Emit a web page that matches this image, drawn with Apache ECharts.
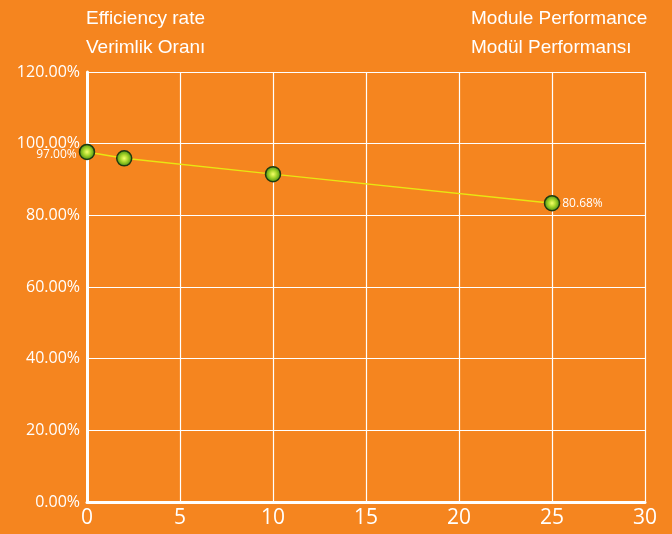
<!DOCTYPE html>
<html>
<head>
<meta charset="utf-8">
<script src="https://cdn.jsdelivr.net/npm/echarts@6/dist/echarts.min.js"></script>
<style>
html,body{margin:0;padding:0;background:#F5851F;}
#c{width:672px;height:534px;}
</style>
</head>
<body>
<div id="c"></div>
<script>
// Data
const years = [0, 2, 10, 25];
const efficiency = [97.7, 95.9, 91.5, 83.4];
const pointLabels = ['97.00%', '', '', '80.68%'];
const labelSides = ['left', 'left', 'left', 'right'];
const xTicks = [0, 5, 10, 15, 20, 25, 30];
const yTicks = [0, 20, 40, 60, 80, 100, 120];
const titlesLeft = ['Efficiency rate', 'Verimlik Oranı'];
const titlesRight = ['Module Performance', 'Modül Performansı'];

const chart = echarts.init(document.getElementById('c'), null, {renderer: 'canvas'});

const markerColor = new echarts.graphic.RadialGradient(0.5, 0.5, 0.5, [
  {offset: 0, color: '#f4ff6a'},
  {offset: 0.45, color: '#a8d62a'},
  {offset: 1, color: '#3f8a12'}
]);

const titleFont = {color: '#ffffff', fontSize: 19, fontFamily: 'Liberation Sans', fontWeight: 'normal'};

option = {
  backgroundColor: '#F5851F',
  animation: false,
  title: [
    {text: titlesLeft[0], left: 86, top: 9, padding: 0, textStyle: titleFont},
    {text: titlesLeft[1], left: 86, top: 38, padding: 0, textStyle: titleFont},
    {text: titlesRight[0], left: 471, top: 9, padding: 0, textStyle: titleFont},
    {text: titlesRight[1], left: 471, top: 38, padding: 0, textStyle: titleFont}
  ],
  grid: {left: 87, right: 27, top: 72, bottom: 32, containLabel: false},
  xAxis: {
    type: 'value',
    min: xTicks[0], max: xTicks[xTicks.length - 1], interval: 5,
    axisLine: {show: true, onZero: false, lineStyle: {color: '#ffffff', width: 3}},
    axisTick: {show: false},
    axisLabel: {color: '#ffffff', fontSize: 21, fontFamily: 'Open Sans', margin: 6},
    splitLine: {show: true, lineStyle: {color: '#ffffff', width: 1.2}}
  },
  yAxis: {
    type: 'value',
    min: yTicks[0], max: yTicks[yTicks.length - 1], interval: 20,
    axisLine: {show: true, onZero: false, lineStyle: {color: '#ffffff', width: 3}},
    axisTick: {show: false},
    axisLabel: {color: '#ffffff', fontSize: 16, fontFamily: 'Open Sans', margin: 7,
      formatter: v => v.toFixed(2) + '%'},
    splitLine: {show: true, lineStyle: {color: '#ffffff', width: 1.2}}
  },
  series: [{
    type: 'line',
    data: years.map((x, i) => ({
      value: [x, efficiency[i]],
      label: {show: pointLabels[i] !== '', position: labelSides[i], formatter: pointLabels[i],
        distance: 2, offset: labelSides[i] === 'left' ? [0, 3] : [0, 0]}
    })),
    lineStyle: {color: '#e9e512', width: 1.5},
    symbol: 'circle',
    symbolSize: 15,
    itemStyle: {color: markerColor, borderColor: '#1f3a10', borderWidth: 1.5},
    label: {color: '#ffffff', fontSize: 12, fontFamily: 'Open Sans'},
    z: 5
  }]
};
chart.setOption(option);
</script>
</body>
</html>
